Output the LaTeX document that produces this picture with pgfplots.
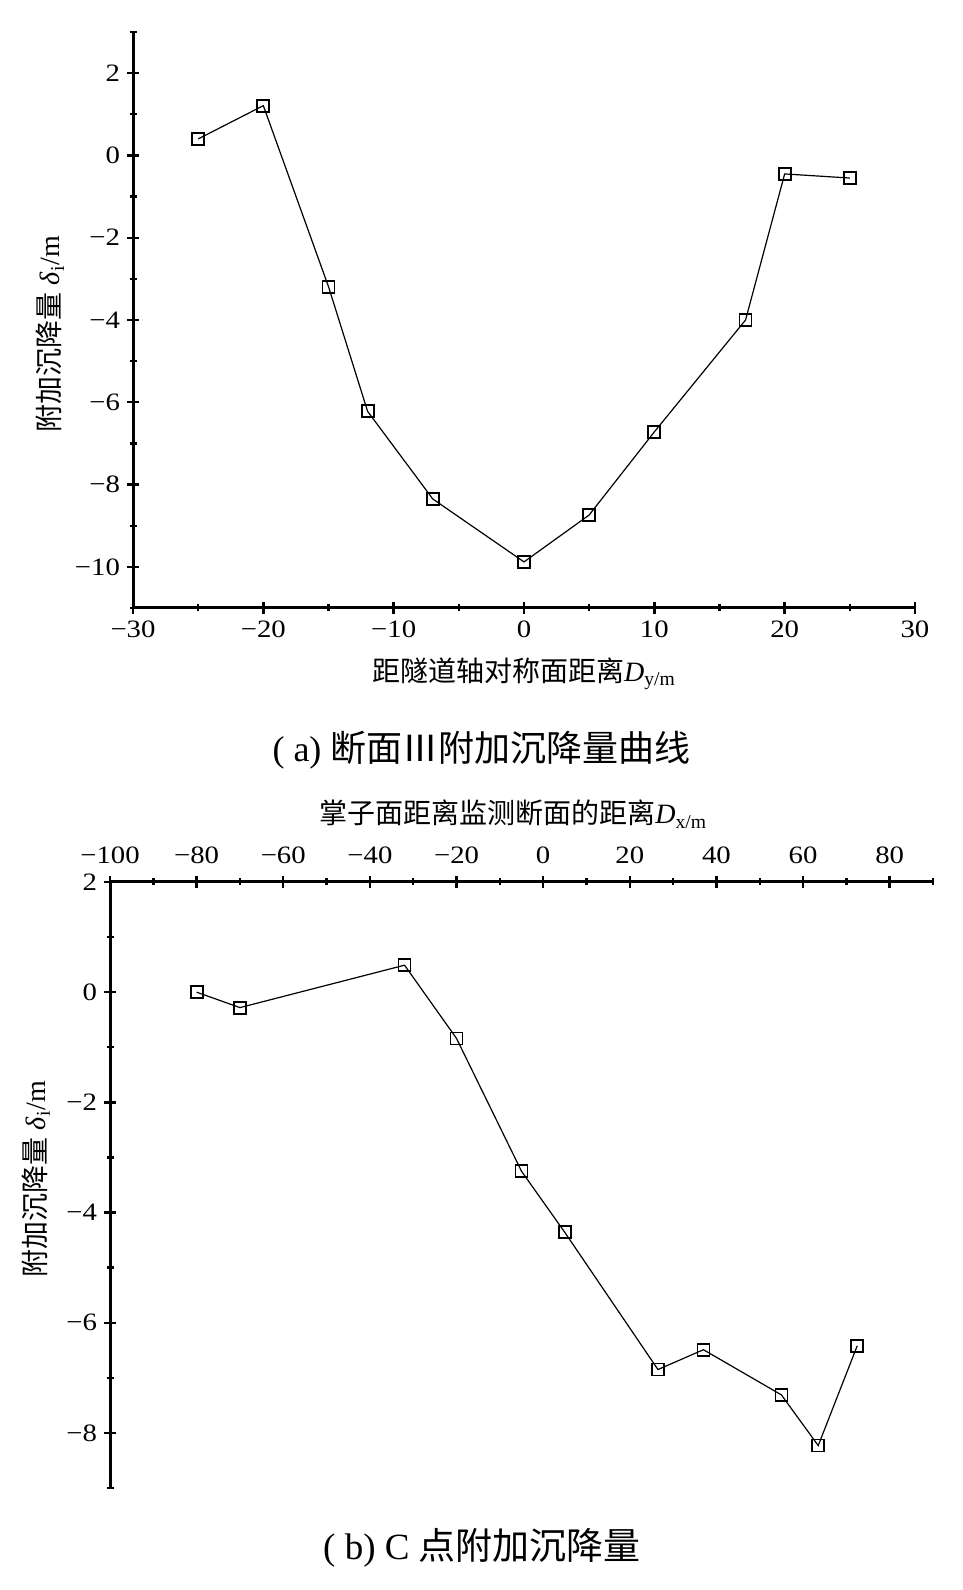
\documentclass[border=0pt]{standalone}
\usepackage{fontspec}
\setmainfont{Liberation Serif}
\newfontfamily\numfont[FakeStretch=1.15]{Liberation Serif}
\newfontfamily\cjk{Noto Sans CJK SC}
\usepackage{pgfplots}
\pgfplotsset{compat=1.18}
\begin{document}
\begin{tikzpicture}
\path[use as bounding box] (0,0) rectangle (481.5pt,795pt);
\pgfplotsset{
  myax/.style={
    scale only axis,
    tick align=inside,
    major tick length=6pt,
    minor tick length=3.5pt,
    every tick/.style={line width=1.2pt, black},
    tick label style={font=\numfont\fontsize{12.5}{15}\selectfont},
    clip=false,
  },
  mydata/.style={black, line width=0.6pt, mark=square, mark size=3pt,
    mark options={solid, fill=white, line width=0.9pt}},
}
% ---------------- (a)
\begin{axis}[myax,
  at={(66.5pt,491pt)}, anchor=south west,
  width=391pt, height=288pt,
  axis x line=bottom, axis y line=left,
  axis line style={-, line width=1.5pt, black},
  xmin=-30, xmax=30, ymin=-11, ymax=3,
  xtick={-30,-20,-10,0,10,20,30},
  xticklabels={−30,−20,−10,0,10,20,30},
  minor xtick={-25,-15,-5,5,15,25},
  ytick={-10,-8,-6,-4,-2,0,2},
  yticklabels={−10,−8,−6,−4,−2,0,2},
  minor ytick={-11,-9,-7,-5,-3,-1,1,3},
  xlabel={{\cjk 距隧道轴对称面距离}\textit{D}\textsubscript{y/m}},
  xlabel style={font=\fontsize{14}{17}\selectfont, at={(axis description cs:0.5,-0.1146)}, anchor=center},
  ylabel={{\cjk 附加沉降量} \textit{δ}\textsubscript{i}/m},
  ylabel style={font=\fontsize{14}{17}\selectfont, at={(axis description cs:-0.106,0.476)}, anchor=center},
]
\addplot[mydata] coordinates {
(-25,0.40) (-20,1.21) (-15,-3.19) (-12,-6.22) (-7,-8.35) (0,-9.88)
(5,-8.74) (10,-6.72) (17,-4.00) (20,-0.45) (25,-0.55)
};
\end{axis}
% ---------------- (b)
\begin{axis}[myax,
  at={(55pt,51pt)}, anchor=south west,
  width=411.5pt, height=303pt,
  axis x line=top, axis y line=left,
  axis line style={-, line width=1.5pt, black},
  xmin=-100, xmax=90, ymin=-9, ymax=2,
  xtick={-100,-80,-60,-40,-20,0,20,40,60,80},
  xticklabels={−100,−80,−60,−40,−20,0,20,40,60,80},
  xticklabel style={yshift=2.5pt},
  minor xtick={-90,-70,-50,-30,-10,10,30,50,70,90},
  ytick={-8,-6,-4,-2,0,2},
  yticklabels={−8,−6,−4,−2,0,2},
  minor ytick={-9,-7,-5,-3,-1,1},
  xlabel={{\cjk 掌子面距离监测断面的距离}\textit{D}\textsubscript{x/m}},
  xlabel style={font=\fontsize{14}{17}\selectfont, at={(axis description cs:0.49,1.112)}, anchor=center},
  ylabel={{\cjk 附加沉降量} \textit{δ}\textsubscript{i}/m},
  ylabel style={font=\fontsize{14}{17}\selectfont, at={(axis description cs:-0.090,0.51)}, anchor=center},
]
\addplot[mydata] coordinates {
(-80,0.00) (-70,-0.28) (-32,0.49) (-20,-0.84) (-5,-3.25) (5,-4.36)
(26.5,-6.85) (37,-6.49) (55,-7.31) (63.5,-8.23) (72.5,-6.42)
};
\end{axis}
\node[font=\fontsize{18}{21}\selectfont, anchor=center] at (240.75pt,420pt)
  {( a) {\cjk 断面Ⅲ附加沉降量曲线}};
\node[font=\fontsize{18.5}{22}\selectfont, anchor=center] at (241pt,21pt)
  {( b) C {\cjk 点附加沉降量}};
\end{tikzpicture}
\end{document}
